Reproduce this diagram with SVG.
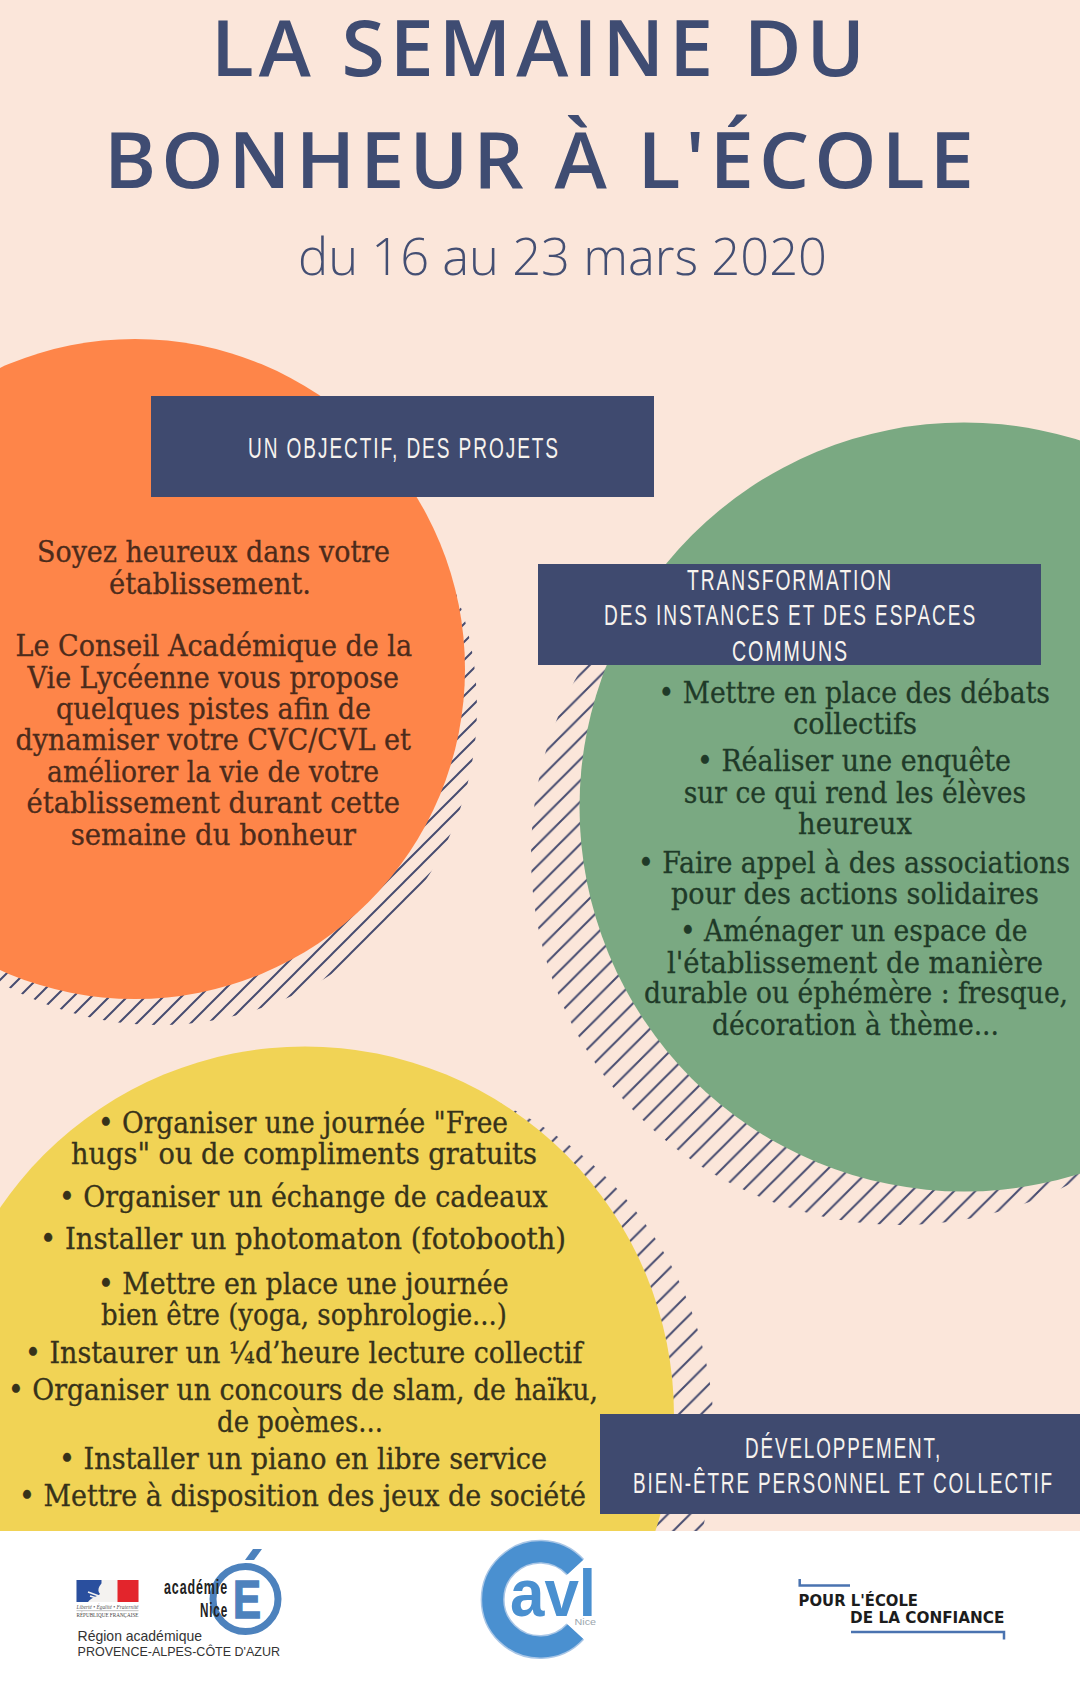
<svg xmlns="http://www.w3.org/2000/svg" width="1080" height="1688" viewBox="0 0 1080 1688">
<style>
.title{font-family:"Open Sans","Noto Sans",sans-serif;font-size:78px;font-weight:600;letter-spacing:5px;fill:#3f4c72}
.sub{font-family:"Open Sans","Noto Sans",sans-serif;font-size:52px;font-weight:300;fill:#444f73}
.band{fill:#3f4a6f}
.bt{font-family:"Liberation Sans Narrow","Liberation Sans",sans-serif;font-size:30px;letter-spacing:3px;fill:#f7f3ee}
.b{font-family:"DejaVu Serif Condensed","DejaVu Serif",serif;font-size:30px;stroke-width:0.3px;transform:translateY(1px)}
.o{fill:#4c2b1b;stroke:#4c2b1b}.g{fill:#1f3a28;stroke:#1f3a28}.y{fill:#37321a;stroke:#37321a}
.h{stroke:#474c70;stroke-width:2;fill:none}
</style>
<defs>
<pattern id="hO" patternUnits="userSpaceOnUse" width="18" height="18" patternTransform="translate(8,0)"><path class="h" d="M-2,20L20,-2M-2,2L2,-2M16,20L20,16"/></pattern>
<pattern id="hG" patternUnits="userSpaceOnUse" width="21.2" height="21.2" patternTransform="translate(4,0)"><path class="h" d="M-2,23.200L23.200,-2M-2,2L2,-2M19.200,23.200L23.200,19.200"/></pattern>
<pattern id="hY" patternUnits="userSpaceOnUse" width="22.200" height="22.200" patternTransform="translate(6.400,0)"><path class="h" d="M-2,24.200L24.200,-2M-2,2L2,-2M20.200,24.200L24.200,20.200"/></pattern>
</defs>
<rect width="1080" height="1688" fill="#fbe6da"/>
<g id="title">
<text class="title" x="211" y="76" textLength="659" lengthAdjust="spacingAndGlyphs">LA SEMAINE DU</text>
<text class="title" x="104" y="188" textLength="875" lengthAdjust="spacingAndGlyphs">BONHEUR À L'ÉCOLE</text>
<text class="sub" x="298" y="275" textLength="529" lengthAdjust="spacingAndGlyphs">du 16 au 23 mars 2020</text>
</g>
<g id="orange">
<circle cx="159" cy="707" r="318" fill="url(#hO)"/>
<circle cx="135" cy="669" r="330" fill="#fe8549"/>
<g class="b o">
<text x="37" y="561" textLength="353" lengthAdjust="spacingAndGlyphs">Soyez heureux dans votre</text>
<text x="109" y="593" textLength="202" lengthAdjust="spacingAndGlyphs">établissement.</text>
<text x="15.5" y="655" textLength="396.500" lengthAdjust="spacingAndGlyphs">Le Conseil Académique de la</text>
<text x="27.600" y="687" textLength="371.400" lengthAdjust="spacingAndGlyphs">Vie Lycéenne vous propose</text>
<text x="56" y="718" textLength="315" lengthAdjust="spacingAndGlyphs">quelques pistes afin de</text>
<text x="15.5" y="749" textLength="395.500" lengthAdjust="spacingAndGlyphs">dynamiser votre CVC/CVL et</text>
<text x="47" y="781" textLength="332" lengthAdjust="spacingAndGlyphs">améliorer la vie de votre</text>
<text x="26.5" y="812" textLength="373.500" lengthAdjust="spacingAndGlyphs">établissement durant cette</text>
<text x="70.700" y="844" textLength="285.300" lengthAdjust="spacingAndGlyphs">semaine du bonheur</text>
</g>
<rect class="band" x="151" y="396" width="503" height="101"/>
<text class="bt" x="248" y="458" textLength="312" lengthAdjust="spacingAndGlyphs">UN OBJECTIF, DES PROJETS</text>
</g>
<g id="green">
<circle cx="901" cy="855" r="370" fill="url(#hG)"/>
<circle cx="964" cy="807" r="384.5" fill="#7aa982"/>
<g class="b g">
<text x="658.600" y="702" textLength="391.400" lengthAdjust="spacingAndGlyphs">• Mettre en place des débats</text>
<text x="793" y="733" textLength="124" lengthAdjust="spacingAndGlyphs">collectifs</text>
<text x="697" y="770" textLength="314" lengthAdjust="spacingAndGlyphs">• Réaliser une enquête</text>
<text x="683.700" y="802" textLength="342.300" lengthAdjust="spacingAndGlyphs">sur ce qui rend les élèves</text>
<text x="798" y="833" textLength="114" lengthAdjust="spacingAndGlyphs">heureux</text>
<text x="638" y="872" textLength="432" lengthAdjust="spacingAndGlyphs">• Faire appel à des associations</text>
<text x="671" y="903" textLength="368" lengthAdjust="spacingAndGlyphs">pour des actions solidaires</text>
<text x="680" y="940" textLength="347.500" lengthAdjust="spacingAndGlyphs">• Aménager un espace de</text>
<text x="667" y="972" textLength="376" lengthAdjust="spacingAndGlyphs">l'établissement de manière</text>
<text x="644" y="1002" textLength="424" lengthAdjust="spacingAndGlyphs">durable ou éphémère : fresque,</text>
<text x="712" y="1034" textLength="287" lengthAdjust="spacingAndGlyphs">décoration à thème...</text>
</g>
<rect class="band" x="538" y="564" width="503" height="101"/>
<text class="bt" x="687" y="590" textLength="206" lengthAdjust="spacingAndGlyphs">TRANSFORMATION</text>
<text class="bt" x="604" y="625" textLength="373" lengthAdjust="spacingAndGlyphs">DES INSTANCES ET DES ESPACES</text>
<text class="bt" x="732" y="660.500" textLength="117" lengthAdjust="spacingAndGlyphs">COMMUNS</text>
</g>
<g id="yellow">
<circle cx="345" cy="1438" r="369" fill="url(#hY)"/>
<circle cx="305" cy="1415.500" r="369" fill="#f1d355"/>
<g class="b y">
<text x="98" y="1132" textLength="410" lengthAdjust="spacingAndGlyphs">• Organiser une journée "Free</text>
<text x="71" y="1163" textLength="466" lengthAdjust="spacingAndGlyphs">hugs" ou de compliments gratuits</text>
<text x="59" y="1206" textLength="488.500" lengthAdjust="spacingAndGlyphs">• Organiser un échange de cadeaux</text>
<text x="40" y="1248" textLength="526" lengthAdjust="spacingAndGlyphs">• Installer un photomaton (fotobooth)</text>
<text x="98" y="1293" textLength="410.500" lengthAdjust="spacingAndGlyphs">• Mettre en place une journée</text>
<text x="101" y="1324" textLength="406" lengthAdjust="spacingAndGlyphs">bien être (yoga, sophrologie...)</text>
<text x="25" y="1362" textLength="557.500" lengthAdjust="spacingAndGlyphs">• Instaurer un ¼d’heure lecture collectif</text>
<text x="8" y="1399" textLength="590" lengthAdjust="spacingAndGlyphs">• Organiser un concours de slam, de haïku,</text>
<text x="217" y="1431" textLength="166" lengthAdjust="spacingAndGlyphs">de poèmes...</text>
<text x="59" y="1468" textLength="488" lengthAdjust="spacingAndGlyphs">• Installer un piano en libre service</text>
<text x="19" y="1505" textLength="567" lengthAdjust="spacingAndGlyphs">• Mettre à disposition des jeux de société</text>
</g>
<rect class="band" x="600" y="1414" width="480" height="100"/>
<text class="bt" x="745" y="1458" textLength="197" lengthAdjust="spacingAndGlyphs">DÉVELOPPEMENT,</text>
<text class="bt" x="633" y="1493" textLength="421" lengthAdjust="spacingAndGlyphs">BIEN-ÊTRE PERSONNEL ET COLLECTIF</text>
</g>
<g id="footer">
<rect x="0" y="1531" width="1080" height="157" fill="#ffffff"/>
<g id="logo-republique">
<rect x="76.500" y="1580" width="62" height="22" fill="#f4f2f0"/>
<rect x="76.500" y="1580" width="25" height="22" fill="#2a4f9e"/>
<rect x="117.500" y="1580" width="21" height="22" fill="#e3252c"/>
<path d="M88,1602C92,1597 97,1597 100,1594C96,1590 100,1582 108,1580H117V1602Z" fill="#f4f2f0"/>
<path d="M88,1592L99,1596M90,1596L100,1599" stroke="#f4f2f0" stroke-width="1.500" fill="none"/>
<text x="76.500" y="1608.600" font-family="Liberation Serif,serif" font-style="italic" font-size="5.500" fill="#555" textLength="62" lengthAdjust="spacingAndGlyphs">Liberté • Égalité • Fraternité</text>
<rect x="76.500" y="1610.500" width="62" height="0.600" fill="#999"/>
<text x="76.500" y="1617" font-family="Liberation Serif,serif" font-size="5.500" fill="#444" textLength="62" lengthAdjust="spacingAndGlyphs">RÉPUBLIQUE FRANÇAISE</text>
<text x="77.600" y="1640.700" font-family="Liberation Sans,sans-serif" font-size="15" fill="#333" textLength="124.400" lengthAdjust="spacingAndGlyphs">Région académique</text>
<text x="77.600" y="1656" font-family="Liberation Sans,sans-serif" font-size="13" fill="#333" textLength="202.400" lengthAdjust="spacingAndGlyphs">PROVENCE-ALPES-CÔTE D'AZUR</text>
</g>
<g id="logo-academie">
<circle cx="245.500" cy="1599" r="32.500" fill="none" stroke="#4d82bd" stroke-width="7"/>
<text x="233" y="1618" font-family="Liberation Sans,sans-serif" font-weight="700" font-size="53" fill="#4d82bd" stroke="#4d82bd" stroke-width="1.500" textLength="28" lengthAdjust="spacingAndGlyphs">E</text>
<polygon points="245,1560 253,1549 262,1549 254,1560" fill="#4d82bd"/>
<text x="164" y="1594" font-family="Liberation Sans Narrow,Liberation Sans,sans-serif" font-weight="700" font-size="21" fill="#222" textLength="64" lengthAdjust="spacingAndGlyphs" letter-spacing="1.500">académie</text>
<text x="200" y="1617" font-family="Liberation Sans Narrow,Liberation Sans,sans-serif" font-weight="700" font-size="21" fill="#222" textLength="28" lengthAdjust="spacingAndGlyphs" letter-spacing="1.500">Nice</text>
</g>
<g id="logo-cavl">
<path d="M575.300,1567.200A47.600,47.600 0 1 0 575.300,1631.600" fill="none" stroke="#a9c6e6" stroke-width="24"/>
<path d="M575.300,1567.200A47.600,47.600 0 1 0 575.300,1631.600" fill="none" stroke="#4a90d0" stroke-width="21"/>
<text x="510" y="1616" font-family="Liberation Sans,sans-serif" font-weight="700" font-size="66" fill="#4a90d0" textLength="86" lengthAdjust="spacingAndGlyphs">avl</text>
<text x="574.500" y="1625" font-family="Liberation Sans,sans-serif" font-size="9" fill="#9aa5ad" textLength="21.500" lengthAdjust="spacingAndGlyphs">Nice</text>
</g>
<g id="logo-confiance">
<path d="M799.700,1579V1585.500H850" fill="none" stroke="#4a73b0" stroke-width="2.500"/>
<path d="M851,1632H1004V1639.600" fill="none" stroke="#4a73b0" stroke-width="2.500"/>
<text x="798.600" y="1605.500" font-family="DejaVu Sans,sans-serif" font-weight="700" font-size="15" fill="#1c1c1c" textLength="119.400" lengthAdjust="spacingAndGlyphs">POUR L'ÉCOLE</text>
<text x="850" y="1623.400" font-family="DejaVu Sans,sans-serif" font-weight="700" font-size="15" fill="#1c1c1c" textLength="154.500" lengthAdjust="spacingAndGlyphs">DE LA CONFIANCE</text>
</g>
</g>
</svg>
